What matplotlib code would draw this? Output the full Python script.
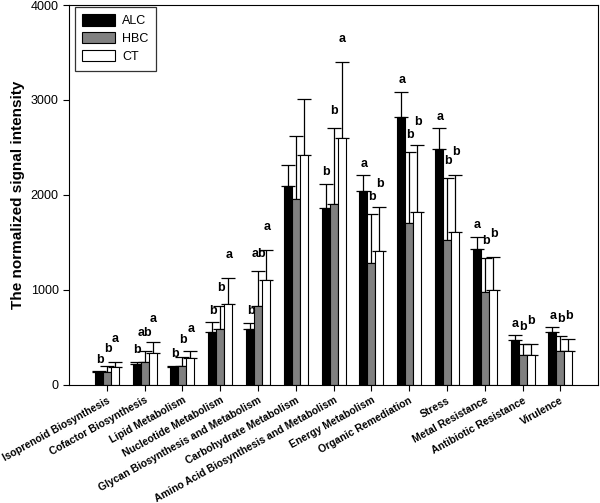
import numpy as np
import matplotlib.pyplot as plt
from matplotlib.patches import Patch

plt.rcParams['font.family'] = ['Liberation Sans', 'DejaVu Sans']

categories = ['Isoprenoid Biosynthesis', 'Cofactor Biosynthesis', 'Lipid Metabolism',
              'Nucleotide Metabolism', 'Glycan Biosynthesis and Metabolism',
              'Carbohydrate Metabolism', 'Amino Acid Biosynthesis and Metabolism',
              'Energy Metabolism', 'Organic Remediation', 'Stress', 'Metal Resistance',
              'Antibiotic Resistance', 'Virulence']

alc = [134, 221, 186, 561, 589, 2098, 1860, 2042, 2825, 2484, 1432, 474, 554]
hbc = [138, 245, 203, 589, 831, 1958, 1905, 1288, 1702, 1526, 975, 309, 351]
ct = [186, 333, 281, 849, 1105, 2421, 2596, 1404, 1818, 1614, 1000, 316, 351]

alc_sd = [8, 24, 17, 99, 67, 218, 259, 168, 263, 221, 129, 49, 50]
hbc_sd = [55, 116, 88, 246, 369, 666, 797, 512, 747, 649, 358, 119, 158]
ct_sd = [59, 123, 70, 274, 316, 586, 807, 473, 705, 596, 344, 112, 133]

alc_sig = ['b', 'b', 'b', 'b', 'b', '', 'b', 'a', 'a', 'a', 'a', 'a', 'a']
hbc_sig = ['b', 'ab', 'b', 'b', 'ab', '', 'b', 'b', 'b', 'b', 'b', 'b', 'b']
ct_sig = ['a', 'a', 'a', 'a', 'a', '', 'a', 'b', 'b', 'b', 'b', 'b', 'b']

series = [('ALC', alc, alc_sd, alc_sig, 'black'),
          ('HBC', hbc, hbc_sd, hbc_sig, '#808080'),
          ('CT', ct, ct_sd, ct_sig, 'white')]

fig = plt.figure(figsize=(6, 5.03), dpi=100)
ax = fig.add_axes([0.115, 0.235, 0.882, 0.755])

x = np.arange(len(categories))
w = 0.21
handles = []
for i, (name, vals, sd, sig, col) in enumerate(series):
    pos = x + (i - 1) * w
    ax.bar(pos, vals, width=w, color=col, edgecolor='black', linewidth=0.8, zorder=2)
    ax.errorbar(pos, vals, yerr=[np.zeros(len(vals)), sd], fmt='none', ecolor='black',
                elinewidth=0.9, capsize=5, capthick=0.9, zorder=1)
    # letters are staggered a little so neighbours don't collide
    for p, v, s, t in zip(pos, vals, sd, sig):
        if t:
            ax.text(p + 0.02, v + s + 120 + 60 * i, t, ha='center', va='center',
                    fontsize=9, fontweight='bold')
    handles.append(Patch(facecolor=col, edgecolor='black', linewidth=0.8, label=name))

ax.set_xlim(-1.0, 13.0)
ax.set_ylim(0, 4000)
ax.set_yticks([0, 1000, 2000, 3000, 4000])
ax.set_xticks(x)
ax.set_xticklabels(categories, rotation=29, ha='right', rotation_mode='anchor',
                   fontsize=7.5, fontweight='bold')
ax.tick_params(axis='y', labelsize=9, length=4)
ax.tick_params(axis='x', length=4)
ax.set_ylabel('The normalized signal intensity', fontsize=11, fontweight='bold')

leg = ax.legend(handles=handles, loc='upper left', fontsize=9, frameon=True,
                fancybox=False, edgecolor='black', handlelength=2.6, handleheight=1.0,
                borderpad=0.6, labelspacing=0.4, handletextpad=0.6,
                bbox_to_anchor=(0.011, 0.995), borderaxespad=0)
leg.get_frame().set_linewidth(0.9)

fig.savefig('out.png', dpi=100)
